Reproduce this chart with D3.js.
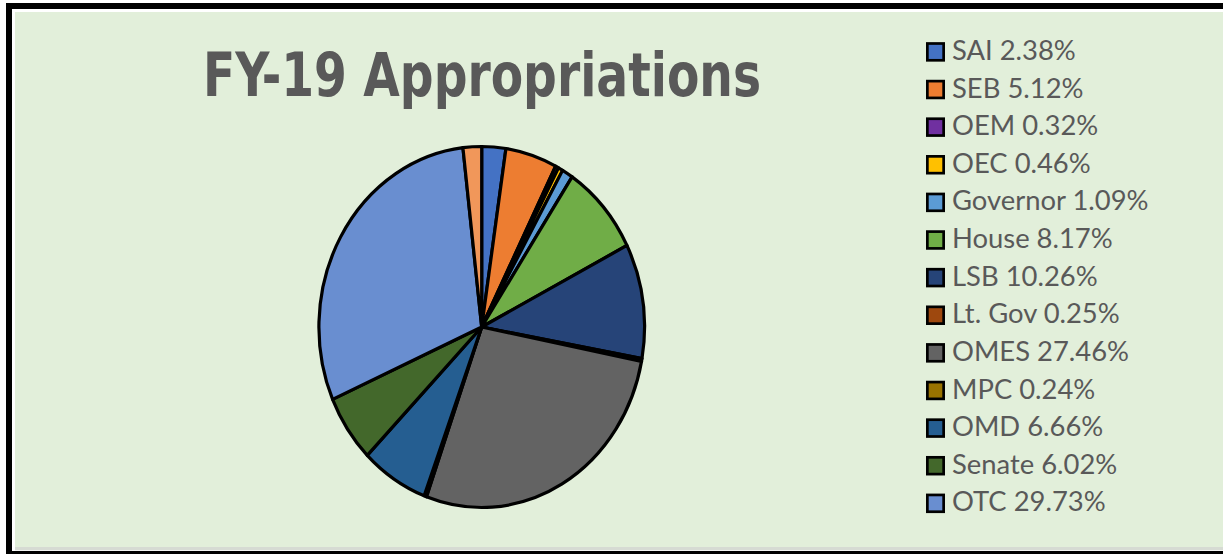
<!DOCTYPE html>
<html>
<head>
<meta charset="utf-8">
<script src="https://cdn.jsdelivr.net/npm/d3@7/dist/d3.min.js"></script>
<style>
  html, body { margin: 0; padding: 0; background: #ffffff; }
  svg { display: block; }
  text { font-variant-ligatures: none; }
</style>
</head>
<body>
<svg id="chart" width="1223" height="554"></svg>
<script>
// FY-19 appropriations by agency (percent of total)
const categories = ["SAI", "SEB", "OEM", "OEC", "Governor", "House", "LSB",
                    "Lt. Gov", "OMES", "MPC", "OMD", "Senate", "OTC", "Other"];
const shares = [2.38, 5.12, 0.32, 0.46, 1.09, 8.17, 10.26,
                0.25, 27.46, 0.24, 6.66, 6.02, 29.73, 1.84];
const sliceColors = ["#4472C4", "#ED7D31", "#7030A0", "#FFC000", "#5B9BD5", "#70AD47", "#264478",
                     "#9E480E", "#636363", "#997300", "#255E91", "#43682B", "#698ED0", "#F1975A"];
const legendCount = 13;   // rows that fit in the legend box
const titleText = "FY-19 Appropriations";

const data = categories.map((c, i) => ({ name: c, value: shares[i], color: sliceColors[i] }));

const svg = d3.select("#chart");

// frame and plot background
svg.append("rect").attr("x", 6).attr("y", 3).attr("width", 1300).attr("height", 600).attr("fill", "#000");
svg.append("rect").attr("x", 12).attr("y", 9).attr("width", 1300).attr("height", 542).attr("fill", "#fff");
svg.append("rect").attr("x", 15).attr("y", 12).attr("width", 1208).attr("height", 535).attr("fill", "#E2EFDA");
svg.append("rect").attr("x", 15).attr("y", 547).attr("width", 1208).attr("height", 3.3).attr("fill", "#D6DBD3");

// title
svg.append("text")
  .attr("x", 203).attr("y", 96)
  .attr("font-family", "'DejaVu Sans Condensed', 'DejaVu Sans', sans-serif")
  .attr("font-stretch", "condensed")
  .attr("font-weight", 700)
  .attr("font-size", 60)
  .attr("fill", "#595959")
  .attr("textLength", 558)
  .attr("lengthAdjust", "spacingAndGlyphs")
  .text(titleText);

// pie (drawn as a circle, stretched vertically)
const cx = 481.7, cy = 327, r = 162.8, ky = 180.5 / 162.8;
const pie = d3.pie().sort(null).value(d => d.value);
const arc = d3.arc().innerRadius(0).outerRadius(r);

const g = svg.append("g").attr("transform", `translate(${cx},${cy}) scale(1,${ky})`);
g.selectAll("path")
  .data(pie(data))
  .join("path")
  .attr("d", arc)
  .attr("fill", d => d.data.color)
  .attr("stroke", "#000")
  .attr("stroke-width", 3.2)
  .attr("stroke-linejoin", "round")
  .attr("vector-effect", "non-scaling-stroke");

// legend
const legendX = 926, legendY0 = 60, legendStep = 37.62;
const legend = svg.append("g");
const rows = legend.selectAll("g")
  .data(data.slice(0, legendCount))
  .join("g")
  .attr("transform", (d, i) => `translate(${legendX},${legendY0 + i * legendStep})`);

rows.append("rect")
  .attr("x", 1.35).attr("y", -16.5)
  .attr("width", 16.3).attr("height", 16.8)
  .attr("fill", d => d.color)
  .attr("stroke", "#000")
  .attr("stroke-width", 2.7);

rows.append("text")
  .attr("x", 26).attr("y", 0)
  .attr("font-family", "Lato, 'Open Sans', sans-serif")
  .attr("font-size", 27.4)
  .attr("fill", "#595959")
  .text(d => `${d.name} ${d.value.toFixed(2)}%`);
</script>
</body>
</html>
